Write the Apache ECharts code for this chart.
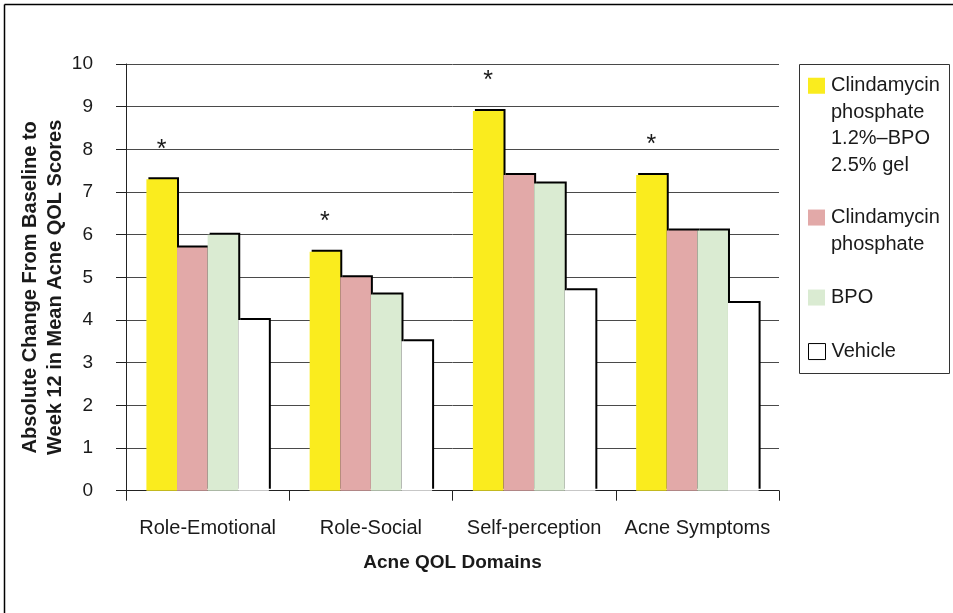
<!DOCTYPE html>
<html>
<head>
<meta charset="utf-8">
<script src="https://cdn.jsdelivr.net/npm/echarts@6/dist/echarts.min.js"></script>
<style>html,body{margin:0;padding:0;background:#fff}#c{width:953px;height:613px}</style>
</head>
<body>
<div id="c"></div>
<script>
const categories = ['Role-Emotional', 'Role-Social', 'Self-perception', 'Acne Symptoms'];
const seriesNames = ['Clindamycin\nphosphate\n1.2%\u2013BPO\n2.5% gel', 'Clindamycin\nphosphate', 'BPO', 'Vehicle'];
const comboValues = [7.3, 5.6, 8.9, 7.4];
const clindaValues = [5.7, 5.0, 7.4, 6.1];
const bpoValues = [6.0, 4.6, 7.2, 6.1];
const vehicleValues = [4.0, 3.5, 4.7, 4.4];
const significance = ['*', '*', '*', '*'];
const yTicks = [0, 10, 1];

const colors = ['#FAEC1E', '#E2A9A8', '#DAEBD2', '#FFFFFF'];
const values = [comboValues, clindaValues, bpoValues, vehicleValues];
const FONT = '"Liberation Sans", Arial, sans-serif';
const TXT = '#1a1a1a';
const L = 26.5;

const chart = echarts.init(document.getElementById('c'), null, {renderer: 'canvas'});

const series = values.map((v, i) => ({
  name: seriesNames[i],
  type: 'bar',
  data: v,
  barGap: '0%',
  barCategoryGap: '25%',
  itemStyle: {
    color: colors[i],
    borderWidth: 0,
    shadowColor: '#000',
    shadowBlur: 0,
    shadowOffsetX: 2,
    shadowOffsetY: -2
  },
  emphasis: {disabled: true},
  label: i === 0 ? {
    show: true,
    position: 'top',
    distance: 17,
    formatter: p => significance[p.dataIndex],
    fontFamily: FONT,
    fontSize: 25,
    color: TXT
  } : {show: false}
}));

const legendTops = [72.5, 204.3, 284.3, 337.8];
const legends = seriesNames.map((name, i) => {
  const n = name.split('\n').length;
  const h = n * L;
  const y0 = L / 2 - 8;
  return {
    data: [name],
    orient: 'vertical',
    left: 808,
    top: legendTops[i],
    padding: 0,
    itemWidth: 17,
    itemHeight: h,
    itemGap: 0,
    selectedMode: false,
    icon: 'path://M0,0M0,' + y0 + 'h17v16h-17zM17,' + h,
    itemStyle: {
      borderColor: i === 3 ? '#000' : 'transparent',
      borderWidth: i === 3 ? 1 : 0,
      shadowColor: 'transparent',
      shadowBlur: 0,
      shadowOffsetX: 0,
      shadowOffsetY: 0
    },
    textStyle: {fontFamily: FONT, fontSize: 20, color: TXT, lineHeight: L, padding: [0, 0, 0, 1]}
  };
});

chart.setOption({
  animation: false,
  backgroundColor: '#fff',
  textStyle: {fontFamily: FONT},
  grid: {left: 126, right: 174, top: 64, bottom: 122.3, containLabel: false},
  legend: legends,
  xAxis: {
    type: 'category',
    data: categories,
    axisLine: {lineStyle: {color: '#222', width: 1}},
    axisTick: {show: true, interval: 0, length: 10, lineStyle: {color: '#222'}},
    axisLabel: {interval: 0, margin: 28, fontFamily: FONT, fontSize: 20, color: TXT},
    name: 'Acne QOL Domains',
    nameLocation: 'middle',
    nameGap: 63,
    nameMoveOverlap: false,
    nameTextStyle: {fontFamily: FONT, fontSize: 19, fontWeight: 'bold', color: TXT}
  },
  yAxis: {
    type: 'value',
    min: yTicks[0],
    max: yTicks[1],
    interval: yTicks[2],
    axisLine: {show: true, lineStyle: {color: '#222', width: 1}},
    axisTick: {show: true, length: 10, lineStyle: {color: '#222'}},
    splitLine: {show: true, lineStyle: {color: '#4a4a4a', width: 1}},
    axisLabel: {margin: 33, fontFamily: FONT, fontSize: 19, color: TXT},
    name: 'Absolute Change From Baseline to\nWeek 12 in Mean Acne QOL Scores',
    nameLocation: 'middle',
    nameRotate: 90,
    nameGap: 58,
    nameMoveOverlap: false,
    nameTextStyle: {fontFamily: FONT, fontSize: 20, fontWeight: 'bold', color: TXT, lineHeight: 25, padding: [0, 20, 0, 0]}
  },
  graphic: [
    {type: 'line', shape: {x1: 4.5, y1: 4.5, x2: 953, y2: 4.5}, style: {stroke: '#000', lineWidth: 1.5}, silent: true},
    {type: 'line', shape: {x1: 4.5, y1: 4.5, x2: 4.5, y2: 613}, style: {stroke: '#000', lineWidth: 1.5}, silent: true},
    {type: 'rect', shape: {x: 799.5, y: 64.5, width: 150, height: 309}, style: {fill: 'none', stroke: '#333', lineWidth: 1}, silent: true, z: -1}
  ],
  series: series
});
</script>
</body>
</html>
